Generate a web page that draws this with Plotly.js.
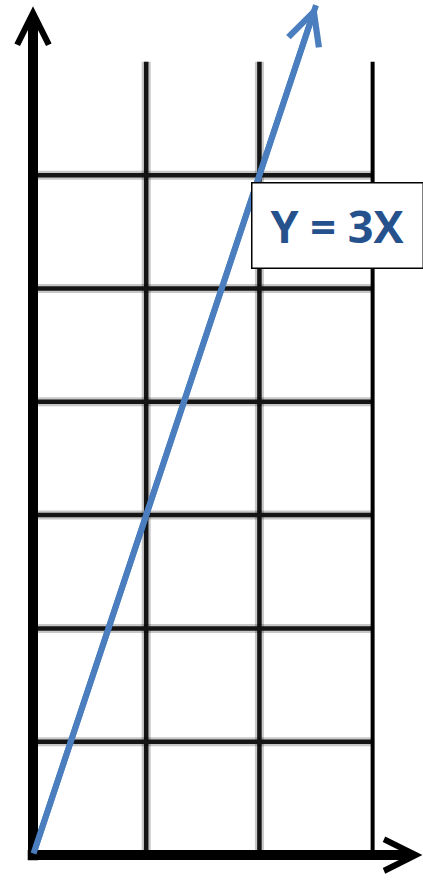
<!DOCTYPE html>
<html>
<head>
<meta charset="utf-8">
<script src="https://cdn.plot.ly/plotly-3.0.1.min.js"></script>
<style>
  html, body { margin: 0; padding: 0; background: #fff; }
  #chart { width: 423px; height: 882px; }
</style>
</head>
<body>
<div id="chart"></div>
<script>
// The line Y = 3X drawn on a unit grid
const xValues = [0, 2.5];
const yValues = [0, 7.5];
const equationLabel = 'Y = 3X';

// Grid cells: three columns, seven rows
const gridColumns = [1, 2];
const gridRows = [1, 2, 3, 4, 5, 6];
const gridRight = 3;
const gridTop = 7;

// Where the axis arrows end
const xAxisEnd = 3.44;
const yAxisEnd = 7.49;

const lineBlue = '#4a7ebf';
const labelBlue = '#25528c';

const shapes = [];
function softLine(x0, y0, x1, y1) {
  // soft halo under a dark core
  shapes.push({type: 'line', xref: 'x', yref: 'y', x0, y0, x1, y1, layer: 'below',
               line: {color: 'rgba(0,0,0,0.22)', width: 9}});
  shapes.push({type: 'line', xref: 'x', yref: 'y', x0, y0, x1, y1, layer: 'below',
               line: {color: '#151515', width: 4.5}});
}
gridColumns.forEach(c => softLine(c, 0, c, gridTop));
gridRows.forEach(r => softLine(0, r, gridRight, r));
// right edge of the grid
shapes.push({type: 'line', xref: 'x', yref: 'y', x0: gridRight, x1: gridRight, y0: 0, y1: gridTop,
             layer: 'below', line: {color: '#000', width: 4}});

const trace = {
  type: 'scatter',
  mode: 'lines',
  x: xValues,
  y: yValues,
  line: {color: lineBlue, width: 6},
  hoverinfo: 'skip',
  cliponaxis: false,
  showlegend: false
};

const annotations = [
  // y axis with arrow
  {xref: 'x', yref: 'y', axref: 'x', ayref: 'y', x: 0, y: yAxisEnd, ax: 0, ay: -0.06,
   text: '', showarrow: true, arrowhead: 5, arrowsize: 0.62, arrowwidth: 10,
   arrowcolor: '#000', standoff: 0, startstandoff: 0},
  // x axis with arrow
  {xref: 'x', yref: 'y', axref: 'x', ayref: 'y', x: xAxisEnd, y: 0, ax: -0.06, ay: 0,
   text: '', showarrow: true, arrowhead: 5, arrowsize: 0.62, arrowwidth: 10,
   arrowcolor: '#000', standoff: 0, startstandoff: 0},
  // arrowhead of the line
  {xref: 'x', yref: 'y', axref: 'x', ayref: 'y',
   x: xValues[xValues.length - 1], y: yValues[yValues.length - 1],
   ax: xValues[0], ay: yValues[0],
   text: '', showarrow: true, arrowhead: 5, arrowsize: 1.05, arrowwidth: 6,
   arrowcolor: lineBlue, standoff: 0, startstandoff: 0},
  // equation label
  {xref: 'paper', yref: 'paper', x: 0.799, y: 0.7443, xanchor: 'center', yanchor: 'middle',
   text: equationLabel, showarrow: false,
   font: {family: '"Open Sans", sans-serif', size: 45, color: labelBlue, weight: 700},
   bgcolor: '#fff', bordercolor: '#000', borderwidth: 1.5, borderpad: 0,
   width: 170, height: 84, align: 'center', valign: 'middle'}
];

const layout = {
  width: 423,
  height: 882,
  margin: {l: 0, r: 0, t: 0, b: 0, pad: 0},
  paper_bgcolor: '#fff',
  plot_bgcolor: '#fff',
  showlegend: false,
  xaxis: {range: [-0.2915, 3.445], visible: false, fixedrange: true},
  yaxis: {range: [-0.238, 7.546], visible: false, fixedrange: true},
  shapes: shapes,
  annotations: annotations
};

Plotly.newPlot('chart', [trace], layout, {displayModeBar: false, staticPlot: true});
</script>
</body>
</html>
